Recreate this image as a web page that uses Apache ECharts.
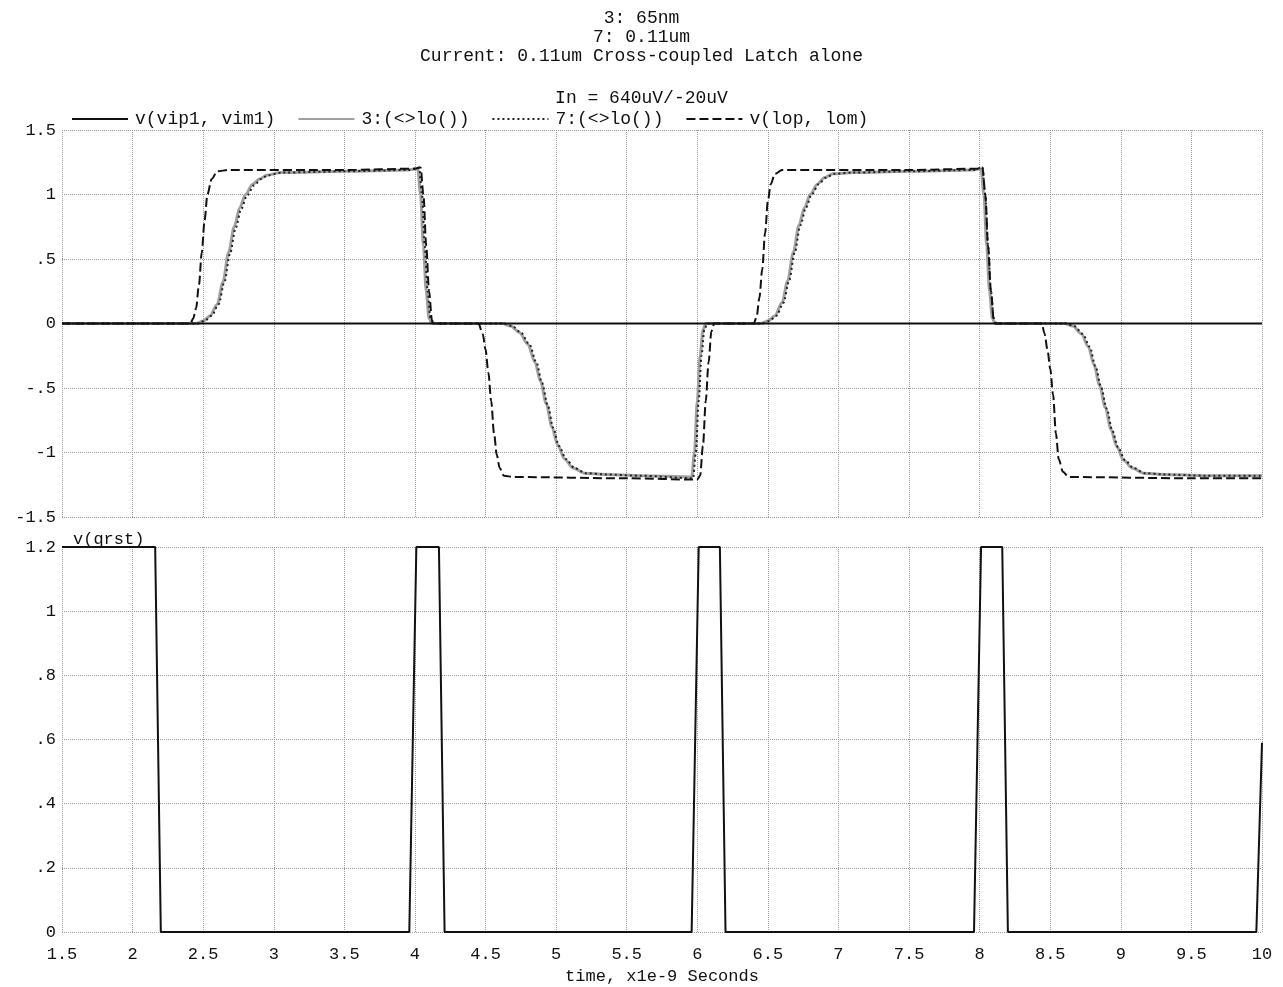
<!DOCTYPE html>
<html>
<head>
<meta charset="utf-8">
<title>Cross-coupled Latch</title>
<script src="https://cdn.jsdelivr.net/npm/echarts@6/dist/echarts.min.js"></script>
<style>
  html, body { margin: 0; padding: 0; background: #fff; }
  #main { width: 1283px; height: 987px; }
</style>
</head>
<body>
<div id="main"></div>
<script>
// time in ns (x1e-9 s), values in V
var xTicks = { min: 1.5, max: 10, step: 0.5 };
var legendNames = ["v(vip1, vim1)", "3:(<>lo())", "7:(<>lo())", "v(lop, lom)"];

var vipVim = [[1.5, 0], [10, 0]];

// 3: 65nm
var lo65 = [
  [1.5, 0], [2.45, 0], [2.5, 0.02], [2.55, 0.06], [2.6, 0.15], [2.64, 0.32], [2.68, 0.55], [2.72, 0.75],
  [2.76, 0.9], [2.8, 1.0], [2.85, 1.08], [2.9, 1.12], [2.95, 1.15], [3.05, 1.17], [3.5, 1.18], [3.95, 1.19],
  [4.02, 1.2], [4.04, 1.0], [4.06, 0.6], [4.08, 0.25], [4.1, 0.04], [4.12, 0],
  [4.62, 0], [4.68, -0.02], [4.74, -0.07], [4.8, -0.16], [4.85, -0.3], [4.89, -0.45], [4.93, -0.62], [4.97, -0.8],
  [5.01, -0.94], [5.06, -1.05], [5.12, -1.12], [5.2, -1.16], [5.35, -1.17], [5.6, -1.18], [5.96, -1.19],
  [5.98, -1.0], [6.0, -0.6], [6.02, -0.25], [6.04, -0.05], [6.06, 0],
  [6.45, 0], [6.5, 0.02], [6.55, 0.06], [6.6, 0.16], [6.64, 0.33], [6.68, 0.55], [6.72, 0.76], [6.76, 0.9],
  [6.8, 1.0], [6.85, 1.08], [6.9, 1.13], [6.96, 1.16], [7.1, 1.17], [7.5, 1.18], [7.95, 1.19],
  [8.01, 1.2], [8.03, 1.0], [8.05, 0.6], [8.07, 0.25], [8.09, 0.04], [8.11, 0],
  [8.6, 0], [8.66, -0.02], [8.72, -0.08], [8.77, -0.18], [8.81, -0.32], [8.85, -0.48], [8.89, -0.65], [8.93, -0.82],
  [8.97, -0.95], [9.02, -1.06], [9.08, -1.12], [9.16, -1.16], [9.3, -1.17], [9.6, -1.18], [10, -1.18]
];

// 7: 0.11um
var lo011 = [
  [1.5, 0], [2.46, 0], [2.51, 0.02], [2.56, 0.06], [2.61, 0.15], [2.65, 0.32], [2.69, 0.54], [2.73, 0.74],
  [2.77, 0.89], [2.81, 0.99], [2.86, 1.07], [2.91, 1.12], [2.96, 1.15], [3.06, 1.17], [3.5, 1.18], [3.96, 1.19],
  [4.03, 1.21], [4.05, 1.0], [4.07, 0.6], [4.09, 0.25], [4.11, 0.04], [4.13, 0],
  [4.63, 0], [4.69, -0.02], [4.75, -0.07], [4.81, -0.16], [4.86, -0.3], [4.9, -0.46], [4.94, -0.63], [4.98, -0.81],
  [5.02, -0.95], [5.07, -1.05], [5.13, -1.12], [5.21, -1.16], [5.35, -1.17], [5.6, -1.18], [5.97, -1.2],
  [5.99, -1.0], [6.01, -0.6], [6.03, -0.25], [6.05, -0.05], [6.07, 0],
  [6.46, 0], [6.51, 0.02], [6.56, 0.06], [6.61, 0.16], [6.65, 0.33], [6.69, 0.55], [6.73, 0.76], [6.77, 0.9],
  [6.81, 1.0], [6.86, 1.08], [6.91, 1.13], [6.97, 1.16], [7.1, 1.17], [7.5, 1.18], [7.96, 1.19],
  [8.02, 1.21], [8.04, 1.0], [8.06, 0.6], [8.08, 0.25], [8.1, 0.04], [8.12, 0],
  [8.61, 0], [8.67, -0.02], [8.73, -0.08], [8.78, -0.18], [8.82, -0.33], [8.86, -0.49], [8.9, -0.66], [8.94, -0.83],
  [8.98, -0.96], [9.03, -1.06], [9.09, -1.12], [9.17, -1.16], [9.3, -1.17], [9.6, -1.18], [10, -1.18]
];

// current: 0.11um cross-coupled latch alone
var lopLom = [
  [1.5, 0], [2.41, 0], [2.43, 0.04], [2.45, 0.12], [2.47, 0.3], [2.49, 0.55], [2.51, 0.8], [2.53, 1.0],
  [2.56, 1.12], [2.6, 1.18], [2.68, 1.19], [3.5, 1.19], [4.0, 1.2], [4.04, 1.21],
  [4.06, 1.0], [4.08, 0.6], [4.1, 0.25], [4.12, 0.03], [4.13, 0],
  [4.45, 0], [4.48, -0.08], [4.5, -0.2], [4.52, -0.38], [4.54, -0.6], [4.56, -0.85], [4.58, -1.02],
  [4.6, -1.12], [4.63, -1.18], [4.7, -1.19], [5.5, -1.2], [6.0, -1.21],
  [6.02, -1.18], [6.04, -0.95], [6.06, -0.6], [6.08, -0.3], [6.1, -0.06], [6.12, 0],
  [6.4, 0], [6.42, 0.05], [6.44, 0.2], [6.46, 0.42], [6.48, 0.7], [6.5, 0.95], [6.52, 1.08],
  [6.55, 1.16], [6.6, 1.19], [7.5, 1.19], [8.0, 1.2], [8.02, 1.21],
  [8.04, 1.0], [8.06, 0.6], [8.08, 0.25], [8.1, 0.03], [8.11, 0],
  [8.44, 0], [8.46, -0.08], [8.48, -0.2], [8.5, -0.35], [8.52, -0.55], [8.54, -0.85], [8.56, -1.05],
  [8.59, -1.15], [8.63, -1.19], [9.5, -1.2], [10, -1.2]
];

// v(qrst)
var qrst = [
  [1.5, 1.2], [2.16, 1.2], [2.2, 0], [3.96, 0], [4.01, 1.2], [4.17, 1.2], [4.21, 0],
  [5.96, 0], [6.01, 1.2], [6.16, 1.2], [6.2, 0], [7.96, 0], [8.01, 1.2], [8.16, 1.2], [8.2, 0],
  [9.96, 0], [10, 0.59]
];

var FONT = "Liberation Mono";
var gridLine = { show: true, lineStyle: { color: "#9a9a9a", type: "dotted", width: 1 } };

function tickLabel(v) {
  // 0.5 -> .5, -0.5 -> -.5
  return String(Math.round(v * 100) / 100).replace(/^(-?)0\./, "$1.");
}

var chart = echarts.init(document.getElementById("main"));
var option = {
  animation: false,
  backgroundColor: "#fff",
  title: [
    {
      text: "3: 65nm\n7: 0.11um\nCurrent: 0.11um Cross-coupled Latch alone",
      left: "center",
      top: 4,
      textStyle: { fontFamily: FONT, fontSize: 18, fontWeight: "normal", color: "#111", lineHeight: 19 },
    },
    {
      text: "In = 640uV/-20uV",
      left: "center",
      top: 84,
      textStyle: { fontFamily: FONT, fontSize: 18, fontWeight: "normal", color: "#111" },
    },
    {
      text: "v(qrst)",
      left: 68,
      top: 526,
      textStyle: { fontFamily: FONT, fontSize: 17, fontWeight: "normal", color: "#111" },
    },
  ],
  legend: {
    data: legendNames,
    left: 66,
    top: 105,
    itemWidth: 56,
    itemHeight: 14,
    itemGap: 22,
    // hide the symbol dot, keep the line sample
    itemStyle: { opacity: 0, borderWidth: 0 },
    textStyle: { fontFamily: FONT, fontSize: 18, color: "#111", padding: [0, 0, 0, 2] },
  },
  grid: [
    { left: 62, right: 21, top: 130, height: 387 },
    { left: 62, right: 21, top: 547, height: 385 },
  ],
  xAxis: [
    {
      gridIndex: 0,
      type: "value",
      min: xTicks.min,
      max: xTicks.max,
      interval: xTicks.step,
      axisLine: { show: false },
      axisTick: { show: false },
      axisLabel: { show: false },
      splitLine: gridLine,
    },
    {
      gridIndex: 1,
      type: "value",
      min: xTicks.min,
      max: xTicks.max,
      interval: xTicks.step,
      axisLine: { show: false },
      axisTick: { show: false },
      axisLabel: {
        fontFamily: FONT,
        fontSize: 17,
        color: "#111",
        margin: 14,
        formatter: tickLabel,
      },
      splitLine: gridLine,
      name: "time, x1e-9 Seconds",
      nameLocation: "middle",
      nameGap: 36,
      nameTextStyle: { fontFamily: FONT, fontSize: 17, color: "#111" },
    },
  ],
  yAxis: [
    {
      gridIndex: 0,
      type: "value",
      min: -1.5,
      max: 1.5,
      interval: 0.5,
      axisLine: { show: false },
      axisTick: { show: false },
      axisLabel: { fontFamily: FONT, fontSize: 17, color: "#111", margin: 6, formatter: tickLabel },
      splitLine: gridLine,
    },
    {
      gridIndex: 1,
      type: "value",
      min: 0,
      max: 1.2,
      interval: 0.2,
      axisLine: { show: false },
      axisTick: { show: false },
      axisLabel: { fontFamily: FONT, fontSize: 17, color: "#111", margin: 6, formatter: tickLabel },
      splitLine: gridLine,
    },
  ],
  series: [
    {
      name: "3:(<>lo())",
      type: "line",
      xAxisIndex: 0,
      yAxisIndex: 0,
      data: lo65,
      showSymbol: false,
      symbol: "none",
      smooth: 0.3,
      smoothMonotone: "x",
      lineStyle: { color: "#a0a0a0", width: 3 },
      itemStyle: { color: "#a0a0a0" },
    },
    {
      name: "7:(<>lo())",
      type: "line",
      xAxisIndex: 0,
      yAxisIndex: 0,
      data: lo011,
      showSymbol: false,
      symbol: "none",
      smooth: 0.3,
      smoothMonotone: "x",
      lineStyle: { color: "#222", width: 2, type: [2, 3] },
      itemStyle: { color: "#222" },
    },
    {
      name: "v(lop, lom)",
      type: "line",
      xAxisIndex: 0,
      yAxisIndex: 0,
      data: lopLom,
      showSymbol: false,
      symbol: "none",
      smooth: 0.3,
      smoothMonotone: "x",
      lineStyle: { color: "#111", width: 2, type: [9, 4] },
      itemStyle: { color: "#111" },
    },
    {
      name: "v(vip1, vim1)",
      type: "line",
      xAxisIndex: 0,
      yAxisIndex: 0,
      data: vipVim,
      showSymbol: false,
      symbol: "none",
      lineStyle: { color: "#111", width: 2 },
      itemStyle: { color: "#111" },
    },
    {
      name: "v(qrst)",
      type: "line",
      xAxisIndex: 1,
      yAxisIndex: 1,
      data: qrst,
      showSymbol: false,
      symbol: "none",
      lineStyle: { color: "#111", width: 2 },
      itemStyle: { color: "#111" },
    },
  ],
};
chart.setOption(option);
</script>
</body>
</html>
